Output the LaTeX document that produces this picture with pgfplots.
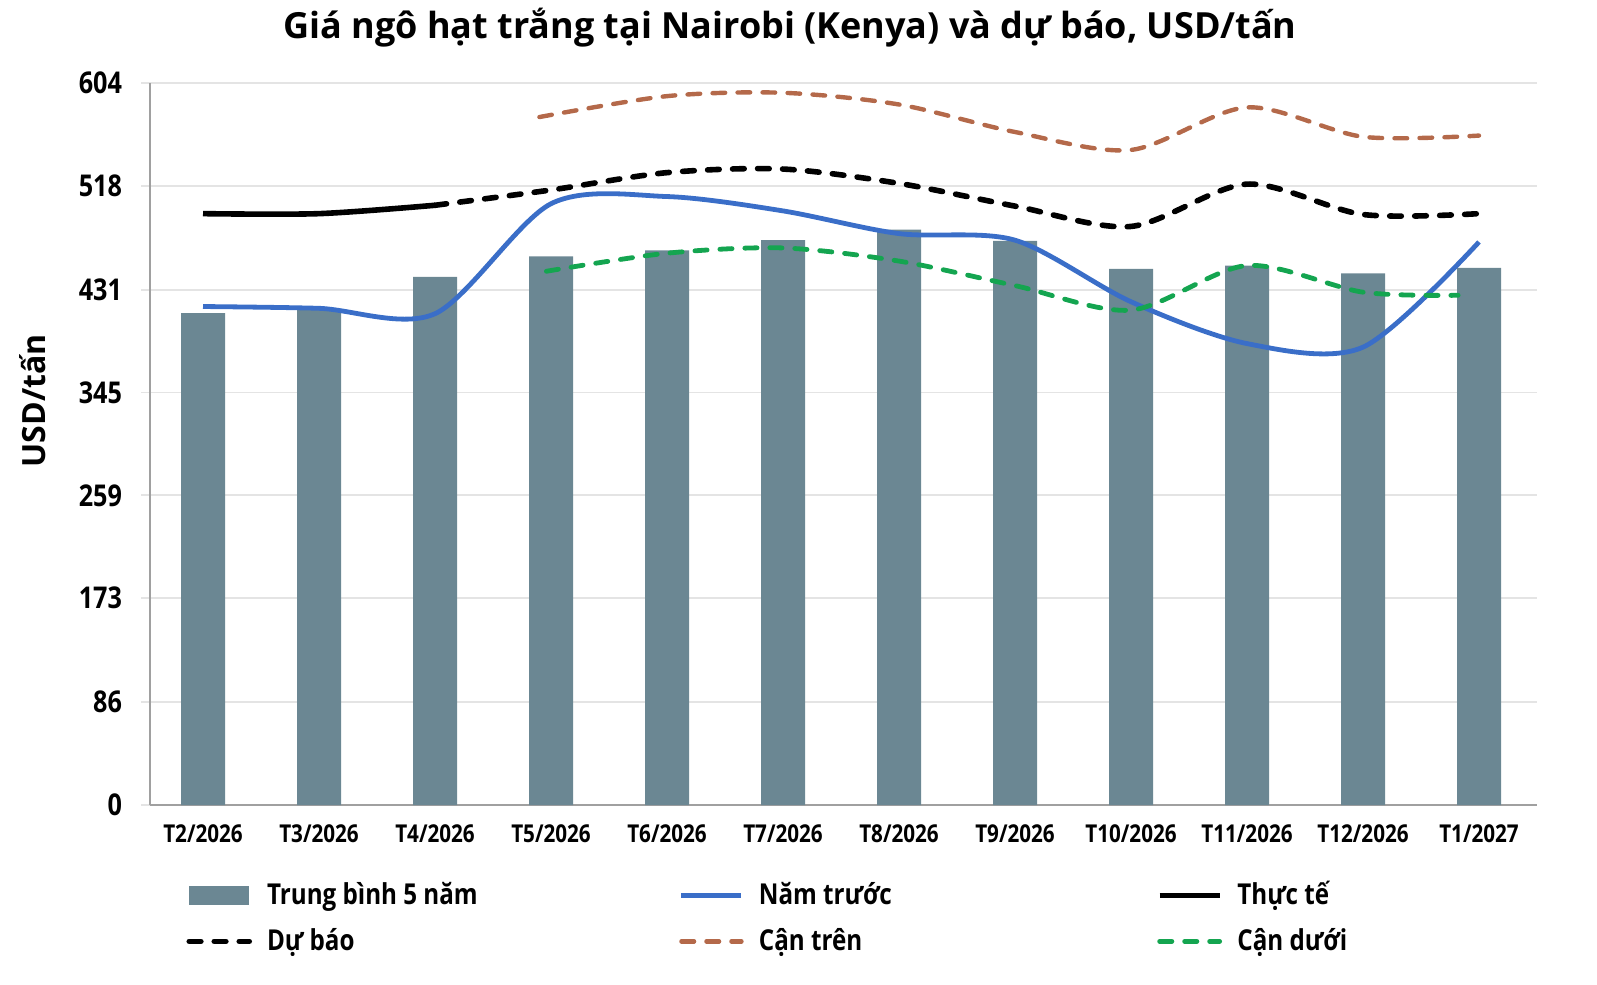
\documentclass[border=0pt]{standalone}
\usepackage{fontspec}
\setmainfont{Open Sans}
\newfontfamily\condfont{Open Sans}[FakeStretch=0.84]
\usepackage{pgfplots}
\pgfplotsset{compat=1.18}
\definecolor{barc}{HTML}{6B8793}
\definecolor{bluec}{HTML}{3A6EC8}
\definecolor{brownc}{HTML}{B4694A}
\definecolor{greenc}{HTML}{14A550}
\definecolor{gridc}{HTML}{E4E4E4}
\definecolor{axisc}{HTML}{A0A0A0}
\begin{document}
\begin{tikzpicture}
\useasboundingbox (-75pt,-90pt) rectangle (723.5pt,402.5pt);
\begin{axis}[
  scale only axis, width=693.5pt, height=361pt,
  at={(0pt,0pt)}, anchor=south west,
  xmin=-0.457, xmax=11.5, ymin=0, ymax=604,
  axis lines*=left,
  x axis line style={draw=axisc, line width=1pt},
  y axis line style={draw=axisc, line width=1pt},
  ytick={0,86,173,259,345,431,518,604},
  xtick={0,...,11},
  xticklabels={T2/2026,T3/2026,T4/2026,T5/2026,T6/2026,T7/2026,T8/2026,T9/2026,T10/2026,T11/2026,T12/2026,T1/2027},
  ymajorgrids, grid style={draw=gridc, line width=0.9pt},
  tick align=outside, major tick length=4.5pt,
  ytick style={draw=gridc, line width=0.9pt},
  xtick style={draw=none},
  /pgf/number format/assume math mode=true,
  yticklabel style={font=\condfont\bfseries\fontsize{15}{18}\selectfont, xshift=-6pt},
  xticklabel style={font=\condfont\bfseries\fontsize{12.3}{14}\selectfont, yshift=-2pt},
  title={Giá ngô hạt trắng tại Nairobi (Kenya) và dự báo, USD/tấn},
  title style={font=\bfseries\fontsize{18}{21}\selectfont, at={(axis description cs:0.4614,1.0596)}, anchor=center},
  ylabel={USD/tấn},
  ylabel style={font=\bfseries\fontsize{16}{18}\selectfont, at={(axis description cs:-0.0844,0.5596)}, anchor=center, rotate=0},
  legend columns=3,
  legend style={draw=none, fill=none, inner sep=0pt, row sep=11pt,
    at={(axis description cs:0.026,-0.108)}, anchor=north west,
    font=\condfont\bfseries\fontsize{14.4}{17}\selectfont,
    nodes={inner sep=0pt, anchor=west},
    /tikz/every odd column/.append style={column sep=7.5pt},
    /tikz/every even column/.append style={text height=10.5pt, text depth=3pt}},
  legend image code/.code={\draw[#1] (0pt,0pt) -- (30pt,0pt);},
]
\addplot[ybar, bar width=22pt, fill=barc, draw=none,
  legend image code/.code={\fill[barc] (0pt,-4.75pt) rectangle (30pt,4.75pt);}]
  coordinates {(0,411.5) (1,415) (2,441.8) (3,459) (4,464) (5,472.5) (6,481.4) (7,472) (8,448.6) (9,451.3) (10,444.8) (11,449.4)};
\addlegendentry{\makebox[206pt][l]{Trung bình 5 năm}}
\addplot[bluec, line width=2.4pt, smooth, tension=0.5]
  coordinates {(0,417) (1,415.5) (2,411) (3,503) (4,509) (5,497) (6,478) (7,472.5) (8,421) (9,386) (10,383) (11,471)};
\addlegendentry{\makebox[199pt][l]{Năm trước}}
\addplot[black, line width=2.8pt, smooth, tension=0.5]
  coordinates {(0,494.7) (1,494.7) (2,501.7)};
\addlegendentry{Thực tế}
\addplot[black, line width=2.8pt, smooth, tension=0.5, line cap=round, dash pattern=on 5.8pt off 6.7pt]
  coordinates {(2,501.7) (3,514.5) (4,529) (5,532) (6,520) (7,501) (8,484) (9,519.4) (10,494) (11,494.7)};
\addlegendentry{Dự báo}
\addplot[brownc, line width=2.2pt, smooth, tension=0.5, line cap=round, dash pattern=on 6.3pt off 6.2pt]
  coordinates {(2.9,575.5) (4,593) (5,595.8) (6,586) (7,563) (8,548) (9,583.6) (10,559) (11,560)};
\addlegendentry{Cận trên}
\addplot[greenc, line width=2.4pt, smooth, tension=0.5, line cap=round, dash pattern=on 6.1pt off 6.4pt]
  coordinates {(2.96,446.5) (4,461.6) (5,466) (6,455) (7,434.5) (8,414) (9,451.3) (10,429) (10.82,426.4)};
\addlegendentry{Cận dưới}
\end{axis}
\end{tikzpicture}
\end{document}
